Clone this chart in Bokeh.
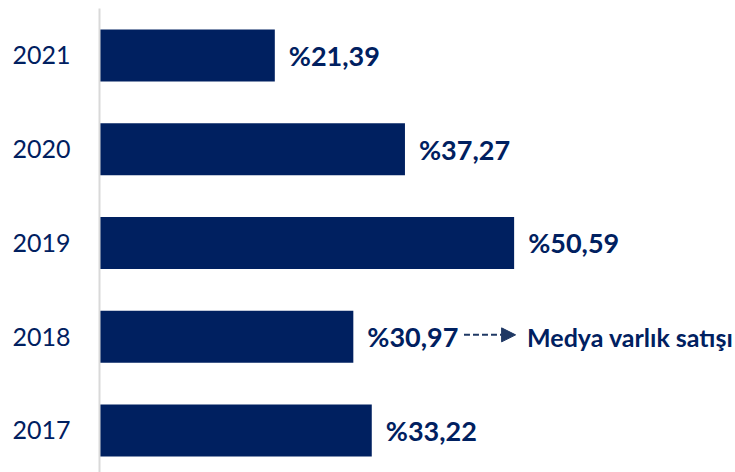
from bokeh.plotting import figure
from bokeh.models import ColumnDataSource, Range1d, FixedTicker, Arrow, NormalHead, Label
from bokeh.core.properties import value
from bokeh.embed import file_html
from bokeh.resources import INLINE

years = ["2017", "2018", "2019", "2020", "2021"]
values = [33.22, 30.97, 50.59, 37.27, 21.39]
labels = ["%33,22", "%30,97", "%50,59", "%37,27", "%21,39"]
note_text = "Medya varlık satışı"
note_year = "2018"

NAVY = "#002060"
FONT = "Lato"

pos = list(range(len(years)))
src = ColumnDataSource(dict(y=pos, v=values, lab=labels, year=years))

p = figure(width=735, height=472, output_backend="svg", toolbar_location=None,
           x_range=Range1d(0, 77.6), y_range=Range1d(-0.448, 4.501),
           min_border_left=99, min_border_right=0, min_border_top=8, min_border_bottom=0)
p.outline_line_color = None
p.grid.grid_line_color = None
p.xaxis.visible = False

p.hbar(y="y", left=0, right="v", height=0.555, source=src, color=NAVY, line_color=None)

p.text(x="v", y="y", text="lab", source=src, x_offset=14, text_baseline="middle",
       text_align="left", text_font=value(FONT), text_font_style="bold",
       text_font_size="27px", text_color=NAVY)

yax = p.yaxis[0]
yax.ticker = FixedTicker(ticks=pos)
yax.major_label_overrides = {i: y for i, y in zip(pos, years)}
yax.major_tick_line_color = None
yax.minor_tick_line_color = None
yax.axis_line_color = "#d9d9d9"
yax.axis_line_width = 2
yax.major_label_standoff = 23
yax.major_label_text_font = FONT
yax.major_label_text_font_size = "25px"
yax.major_label_text_color = NAVY

i = years.index(note_year)
v = values[i]
p.add_layout(Arrow(x_start=v + 13.5, y_start=pos[i] + 0.02, x_end=v + 19.8, y_end=pos[i] + 0.02,
                   line_color="#1f3864", line_width=2, line_dash="6 3",
                   end=NormalHead(size=14, fill_color="#1f3864", line_color="#1f3864")))
p.add_layout(Label(x=v + 21.2, y=pos[i], text=note_text, text_baseline="middle",
                   text_font=FONT, text_font_style="bold", text_font_size="25px",
                   text_color=NAVY))

open("out.html", "w").write(file_html(p, INLINE))
